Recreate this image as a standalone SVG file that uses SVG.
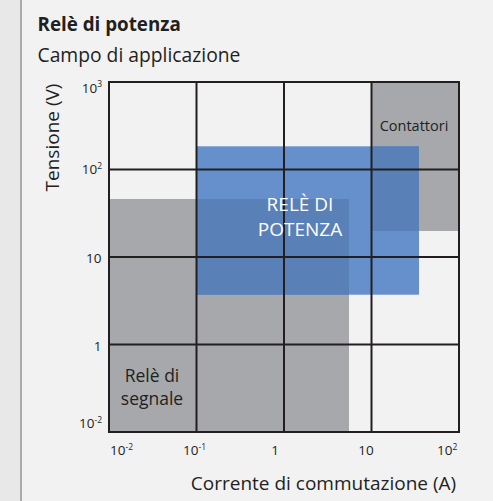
<svg xmlns="http://www.w3.org/2000/svg" width="493" height="501" viewBox="0 0 493 501">
<style>
text{font-family:"Open Sans","Noto Sans","Liberation Sans",sans-serif;fill:#231f20;font-weight:400}
.ax{font-size:19px}
.tk{font-size:13.5px}
.sup{font-size:8.5px}
.grid{stroke:#231f20;stroke-width:2;fill:none}
.grey{fill:#a7a8ac}
.blue{fill:#6590cc}
.ov{fill:#5a80b8}
.lbl{font-size:19px;text-anchor:middle}
</style>
<rect x="0" y="0" width="493" height="501" fill="#f2f2f2"/>
<rect x="0" y="0" width="21" height="501" fill="#e8e8e8"/>
<line x1="21" y1="0" x2="21" y2="501" stroke="#999999" stroke-width="1.6"/>
<text x="37.5" y="31" style="font-size:18.8px;font-weight:bold">Relè di potenza</text>
<text x="37.5" y="61.5" style="font-size:19.3px">Campo di applicazione</text>
<g id="areas">
<g id="rele-segnale">
<rect class="grey" x="109" y="199" width="240" height="233"/>
</g>
<g id="contattori">
<rect class="grey" x="371.5" y="82" width="87.5" height="149"/>
</g>
<g id="rele-potenza">
<rect class="blue" x="196.5" y="146.3" width="222.5" height="148.4"/>
<rect class="ov" x="196.5" y="199" width="152.5" height="95.7"/>
<rect class="ov" x="371.5" y="146.3" width="47.5" height="84.7"/>
</g>
</g>
<g id="grid">
<rect class="grid" x="109" y="82" width="350" height="350"/>
<path class="grid" d="M196.5 82V432M284 82V432M371.5 82V432M109 169.5H459M109 257H459M109 344.5H459"/>
</g>
<g id="labels">
<text x="414" y="131" style="font-size:14.5px;text-anchor:middle">Contattori</text>
<text class="lbl" style="fill:#ffffff"><tspan x="300" y="211">RELÈ DI</tspan><tspan x="300" y="235.5">POTENZA</tspan></text>
<text class="lbl" style="font-size:17.5px"><tspan x="152" y="382">Relè di</tspan><tspan x="152" y="405">segnale</tspan></text>
</g>
<g id="y-ticks" style="text-anchor:end">
<text class="tk" x="102" y="92.5">10<tspan class="sup" dy="-5.5">3</tspan></text>
<text class="tk" x="102" y="174">10<tspan class="sup" dy="-5.5">2</tspan></text>
<text class="tk" x="101.5" y="263">10</text>
<text class="tk" x="101.5" y="350.5">1</text>
<text class="tk" x="102" y="428">10<tspan class="sup" dy="-5.5">-2</tspan></text>
</g>
<g id="x-ticks">
<text class="tk" x="110" y="455">10<tspan class="sup" dy="-5.5">-2</tspan></text>
<text class="tk" x="183" y="455">10<tspan class="sup" dy="-5.5">-1</tspan></text>
<text class="tk" x="275" y="455" style="text-anchor:middle">1</text>
<text class="tk" x="366" y="455" style="text-anchor:middle">10</text>
<text class="tk" x="437" y="455">10<tspan class="sup" dy="-5.5">2</tspan></text>
</g>
<text class="ax" x="323.5" y="490" style="text-anchor:middle">Corrente di commutazione (A)</text>
<text class="ax" transform="translate(59 137.5) rotate(-90)" style="text-anchor:middle">Tensione (V)</text>
</svg>
